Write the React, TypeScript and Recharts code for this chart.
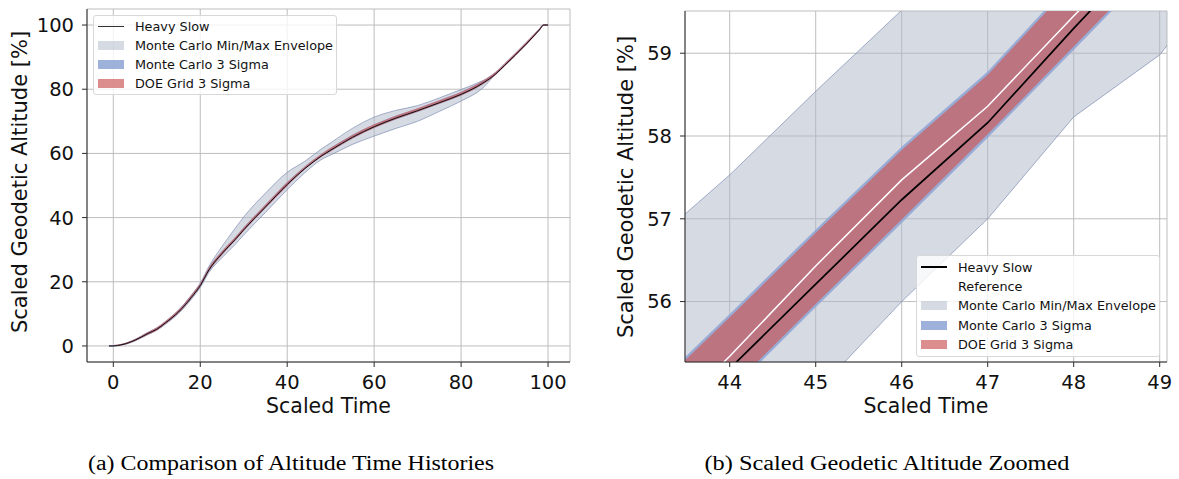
import React from "react"
import {
  Area,
  CartesianGrid,
  ComposedChart,
  Label,
  Legend,
  Line,
  XAxis,
  YAxis,
} from "recharts"

// (a) full time history
const overviewTime = [-1, 0, 2, 5, 8, 10, 12, 15, 18, 20, 22, 25, 28, 30, 35, 40, 44, 48, 50, 55, 60, 65, 70, 75, 80, 85, 88, 90, 95, 98, 99, 100]
const overviewHeavySlow = [0, 0, 0.4, 1.8, 3.9, 5.2, 7.2, 10.6, 15.2, 18.8, 23.7, 28.8, 33.1, 36.2, 43.3, 50.3, 55.2, 59.3, 61.0, 65.0, 68.3, 71.0, 73.3, 75.8, 78.4, 81.9, 84.8, 87.4, 94.1, 98.5, 100, 100]
const overviewEnvLow = [0, 0, 0.3, 1.6, 3.6, 4.9, 6.8, 10.1, 14.6, 18.2, 22.9, 27.5, 31.6, 34.6, 41.6, 48.7, 53.9, 58.2, 59.5, 62.8, 65.4, 67.8, 70.0, 73.1, 76.3, 80.4, 84.8, 87.4, 94.1, 98.5, 100, 100]
const overviewEnvHigh = [0, 0, 0.5, 2.0, 4.2, 5.6, 7.6, 11.1, 15.9, 19.6, 24.8, 31.0, 36.6, 40.2, 47.6, 54.1, 57.5, 61.5, 63.3, 67.8, 71.3, 73.4, 74.9, 77.3, 79.9, 82.7, 84.8, 87.4, 94.1, 98.5, 100, 100]
const overviewMcLow = [0, 0, 0.2, 1.5, 3.5, 4.8, 6.8, 10.2, 14.8, 18.4, 23.2, 28.3, 32.7, 35.8, 42.9, 49.8, 54.9, 59.0, 60.6, 64.6, 67.9, 70.6, 72.9, 75.4, 78.0, 81.5, 84.5, 87.1, 93.8, 98.2, 99.8, 99.8]
const overviewMcHigh = [0.2, 0.3, 0.7, 2.2, 4.4, 5.8, 7.8, 11.3, 16.0, 19.6, 24.5, 29.6, 33.9, 37.0, 44.1, 51.1, 55.9, 60.0, 61.8, 65.8, 69.1, 71.8, 74.1, 76.6, 79.2, 82.7, 85.5, 88.1, 94.8, 99.0, 100.3, 100.3]
const overviewDoeLow = [0, 0.05, 0.25, 1.55, 3.55, 4.85, 6.85, 10.25, 14.85, 18.45, 23.25, 28.35, 32.75, 35.85, 42.95, 49.85, 54.95, 59.05, 60.65, 64.65, 67.95, 70.65, 72.95, 75.45, 78.05, 81.55, 84.55, 87.15, 93.85, 98.25, 99.85, 99.85]
const overviewDoeHigh = [0.15, 0.25, 0.65, 2.15, 4.35, 5.75, 7.75, 11.25, 15.95, 19.55, 24.45, 29.55, 33.85, 36.95, 44.05, 51.05, 55.85, 59.95, 61.75, 65.75, 69.05, 71.75, 74.05, 76.55, 79.15, 82.65, 85.45, 88.05, 94.75, 98.95, 100.25, 100.25]

// (b) zoomed window around t = 44..49
const zoomTime = [43, 44, 45, 46, 47, 48, 49, 50]
const zoomHeavySlow = [54.2, 55.19, 56.21, 57.23, 58.16, 59.3, 60.4, 61.4]
const zoomReference = [54.3, 55.34, 56.43, 57.47, 58.36, 59.45, 60.5, 61.5]
const zoomEnvLow = [53.0, 53.9, 54.9, 56.0, 57.0, 58.23, 58.98, 60.3]
const zoomEnvHigh = [56.62, 57.53, 58.54, 59.52, 60.5, 61.5, 62.4, 63.3]
const zoomMcLow = [53.9, 54.9, 55.93, 56.95, 57.98, 59.04, 60.1, 61.1]
const zoomMcHigh = [54.85, 55.85, 56.87, 57.87, 58.78, 59.9, 60.95, 61.95]
const zoomDoeLow = [53.94, 54.94, 55.97, 56.99, 58.02, 59.08, 60.14, 61.14]
const zoomDoeHigh = [54.81, 55.81, 56.83, 57.83, 58.74, 59.86, 60.91, 61.91]

const overviewXTicks = [0, 20, 40, 60, 80, 100]
const overviewYTicks = [0, 20, 40, 60, 80, 100]
const zoomXTicks = [44, 45, 46, 47, 48, 49]
const zoomYTicks = [56, 57, 58, 59]

const overviewLegendLabels = ["Heavy Slow", "Monte Carlo Min/Max Envelope", "Monte Carlo 3 Sigma", "DOE Grid 3 Sigma"]
const zoomLegendLabels = ["Heavy Slow", "Reference", "Monte Carlo Min/Max Envelope", "Monte Carlo 3 Sigma", "DOE Grid 3 Sigma"]

const overviewData = overviewTime.map((t, i) => ({
  t,
  heavy: overviewHeavySlow[i],
  env: [overviewEnvLow[i], overviewEnvHigh[i]],
  mc: [overviewMcLow[i], overviewMcHigh[i]],
  doe: [overviewDoeLow[i], overviewDoeHigh[i]],
}))

const zoomData = zoomTime.map((t, i) => ({
  t,
  heavy: zoomHeavySlow[i],
  ref: zoomReference[i],
  env: [zoomEnvLow[i], zoomEnvHigh[i]],
  mc: [zoomMcLow[i], zoomMcHigh[i]],
  doe: [zoomDoeLow[i], zoomDoeHigh[i]],
}))

const FONT = "'DejaVu Sans', sans-serif"
const INK = "#111"
const SPINE = "#2a2a2a"
const GRID = "#bdbdbd"
const ENV = { fill: "#adb5c7", opacity: 0.5, stroke: "#7584ad" }
const MC = { fill: "#8da3d3", opacity: 0.85 }
const DOE = { fill: "#cd5c5c", opacity: 0.7 }

const tickStyle = { fontSize: 19.5, fill: INK, fontFamily: FONT }

const legendSwatch = (label: string, lineWidth: number) => {
  if (label === "Heavy Slow")
    return <div style={{ width: 26, height: lineWidth, background: lineWidth > 1 ? "#000" : "#333" }} />
  if (label === "Reference") return <div style={{ width: 26, height: 1.5, background: "#fff" }} />
  const c = label.startsWith("Monte Carlo Min") ? ENV : label.startsWith("Monte") ? MC : DOE
  return <div style={{ width: 26, height: 9, background: c.fill, opacity: c.opacity }} />
}

const makeLegend = (labels: string[], rowH: number, lineWidth: number) => () => (
  <div
    style={{
      width: 244,
      boxSizing: "border-box",
      padding: "1.5px 0",
      background: "rgba(255,255,255,0.8)",
      border: "1px solid #d8d8d8",
      borderRadius: 3,
      fontFamily: FONT,
      fontSize: 12.8,
      color: INK,
    }}
  >
    {labels.map((label) => (
      <div key={label} style={{ display: "flex", alignItems: "center", height: rowH }}>
        <div style={{ width: 41, paddingLeft: 4, boxSizing: "border-box" }}>{legendSwatch(label, lineWidth)}</div>
        <span style={{ whiteSpace: "nowrap" }}>{label}</span>
      </div>
    ))}
  </div>
)

const xTitle = (cx: number) => () => (
  <text x={cx} y={413} textAnchor="middle" fontFamily={FONT} fontSize={20.5} fill={INK}>
    Scaled Time
  </text>
)

const yTitle = (x: number, cy: number) => () => (
  <text x={x} y={cy} transform={`rotate(-90, ${x}, ${cy})`} textAnchor="middle" fontFamily={FONT} fontSize={21} fill={INK}>
    Scaled Geodetic Altitude [%]
  </text>
)

const App = () => {
  return (
    <div style={{ position: "absolute", left: 0, top: 0, width: 1179, height: 479, background: "#fff", overflow: "hidden" }}>
      <div style={{ position: "absolute", left: 0, top: 0 }}>
        <ComposedChart width={590} height={430} data={overviewData} margin={{ top: 9, right: 20, bottom: 18, left: 27 }}>
          <CartesianGrid stroke={GRID} strokeWidth={1} />
          <XAxis
            dataKey="t"
            type="number"
            domain={[-6.05, 105.05]}
            ticks={overviewXTicks}
            interval={0}
            allowDataOverflow
            height={50}
            tick={tickStyle}
            tickSize={5}
            tickMargin={8}
            stroke={SPINE}
          >
            <Label content={xTitle(328.5)} />
          </XAxis>
          <XAxis xAxisId="top" dataKey="t" type="number" orientation="top" domain={[-6.05, 105.05]} allowDataOverflow height={0} tick={false} tickLine={false} stroke={SPINE} />
          <YAxis
            type="number"
            domain={[-5, 105]}
            ticks={overviewYTicks}
            interval={0}
            allowDataOverflow
            width={60}
            tick={tickStyle}
            tickSize={5}
            tickMargin={8}
            stroke={SPINE}
          >
            <Label content={yTitle(27, 182)} />
          </YAxis>
          <YAxis yAxisId="right" orientation="right" type="number" domain={[-5, 105]} allowDataOverflow width={0} tick={false} tickLine={false} stroke={SPINE} />
          <Area type="monotone" dataKey="env" fill={ENV.fill} fillOpacity={ENV.opacity} stroke={ENV.stroke} strokeWidth={0.8} strokeOpacity={0.8} isAnimationActive={false} dot={false} activeDot={false} />
          <Area type="monotone" dataKey="mc" fill={MC.fill} fillOpacity={MC.opacity} stroke="none" isAnimationActive={false} dot={false} activeDot={false} />
          <Area type="monotone" dataKey="doe" fill={DOE.fill} fillOpacity={DOE.opacity} stroke="none" isAnimationActive={false} dot={false} activeDot={false} />
          <Line type="monotone" dataKey="heavy" stroke="#000" strokeWidth={0.9} dot={false} activeDot={false} isAnimationActive={false} />
          <Legend
            layout="vertical"
            align="center"
            verticalAlign="middle"
            wrapperStyle={{ left: 93, top: 15, width: 244 }}
            content={makeLegend(overviewLegendLabels, 18.8, 1)}
          />
        </ComposedChart>
      </div>

      <div style={{ position: "absolute", left: 600, top: 0 }}>
        <ComposedChart width={579} height={430} data={zoomData} margin={{ top: 11, right: 12, bottom: 18, left: 25 }}>
          <CartesianGrid stroke={GRID} strokeWidth={1} />
          <XAxis
            dataKey="t"
            type="number"
            domain={[43.48, 49.085]}
            ticks={zoomXTicks}
            interval={0}
            allowDataOverflow
            height={50}
            tick={tickStyle}
            tickSize={5}
            tickMargin={8}
            stroke={SPINE}
          >
            <Label content={xTitle(326)} />
          </XAxis>
          <XAxis xAxisId="top" dataKey="t" type="number" orientation="top" domain={[43.48, 49.085]} allowDataOverflow height={0} tick={false} tickLine={false} stroke={SPINE} />
          <YAxis
            type="number"
            domain={[55.27, 59.51]}
            ticks={zoomYTicks}
            interval={0}
            allowDataOverflow
            width={60}
            tick={tickStyle}
            tickSize={5}
            tickMargin={8}
            stroke={SPINE}
          >
            <Label content={yTitle(33, 187)} />
          </YAxis>
          <YAxis yAxisId="right" orientation="right" type="number" domain={[55.27, 59.51]} allowDataOverflow width={0} tick={false} tickLine={false} stroke={SPINE} />
          <Area type="linear" dataKey="env" fill={ENV.fill} fillOpacity={ENV.opacity} stroke={ENV.stroke} strokeWidth={0.8} strokeOpacity={0.8} isAnimationActive={false} dot={false} activeDot={false} />
          <Area type="linear" dataKey="mc" fill={MC.fill} fillOpacity={MC.opacity} stroke="none" isAnimationActive={false} dot={false} activeDot={false} />
          <Area type="linear" dataKey="doe" fill={DOE.fill} fillOpacity={DOE.opacity} stroke="none" isAnimationActive={false} dot={false} activeDot={false} />
          <Line type="linear" dataKey="heavy" stroke="#000" strokeWidth={1.7} dot={false} activeDot={false} isAnimationActive={false} />
          <Line type="linear" dataKey="ref" stroke="#fff" strokeWidth={1.5} dot={false} activeDot={false} isAnimationActive={false} />
          <Legend
            layout="vertical"
            align="center"
            verticalAlign="middle"
            wrapperStyle={{ left: 316, top: 255, width: 244 }}
            content={makeLegend(zoomLegendLabels, 19.4, 2)}
          />
        </ComposedChart>
      </div>

      <svg width={1179} height={49} style={{ position: "absolute", left: 0, top: 430 }}>
        <text x={291} y={40} textAnchor="middle" fontFamily="'Liberation Serif', serif" fontSize={20} textLength={406} lengthAdjust="spacingAndGlyphs" fill="#000">
          (a) Comparison of Altitude Time Histories
        </text>
        <text x={887} y={40} textAnchor="middle" fontFamily="'Liberation Serif', serif" fontSize={20} textLength={365} lengthAdjust="spacingAndGlyphs" fill="#000">
          (b) Scaled Geodetic Altitude Zoomed
        </text>
      </svg>
    </div>
  )
}

export default App
